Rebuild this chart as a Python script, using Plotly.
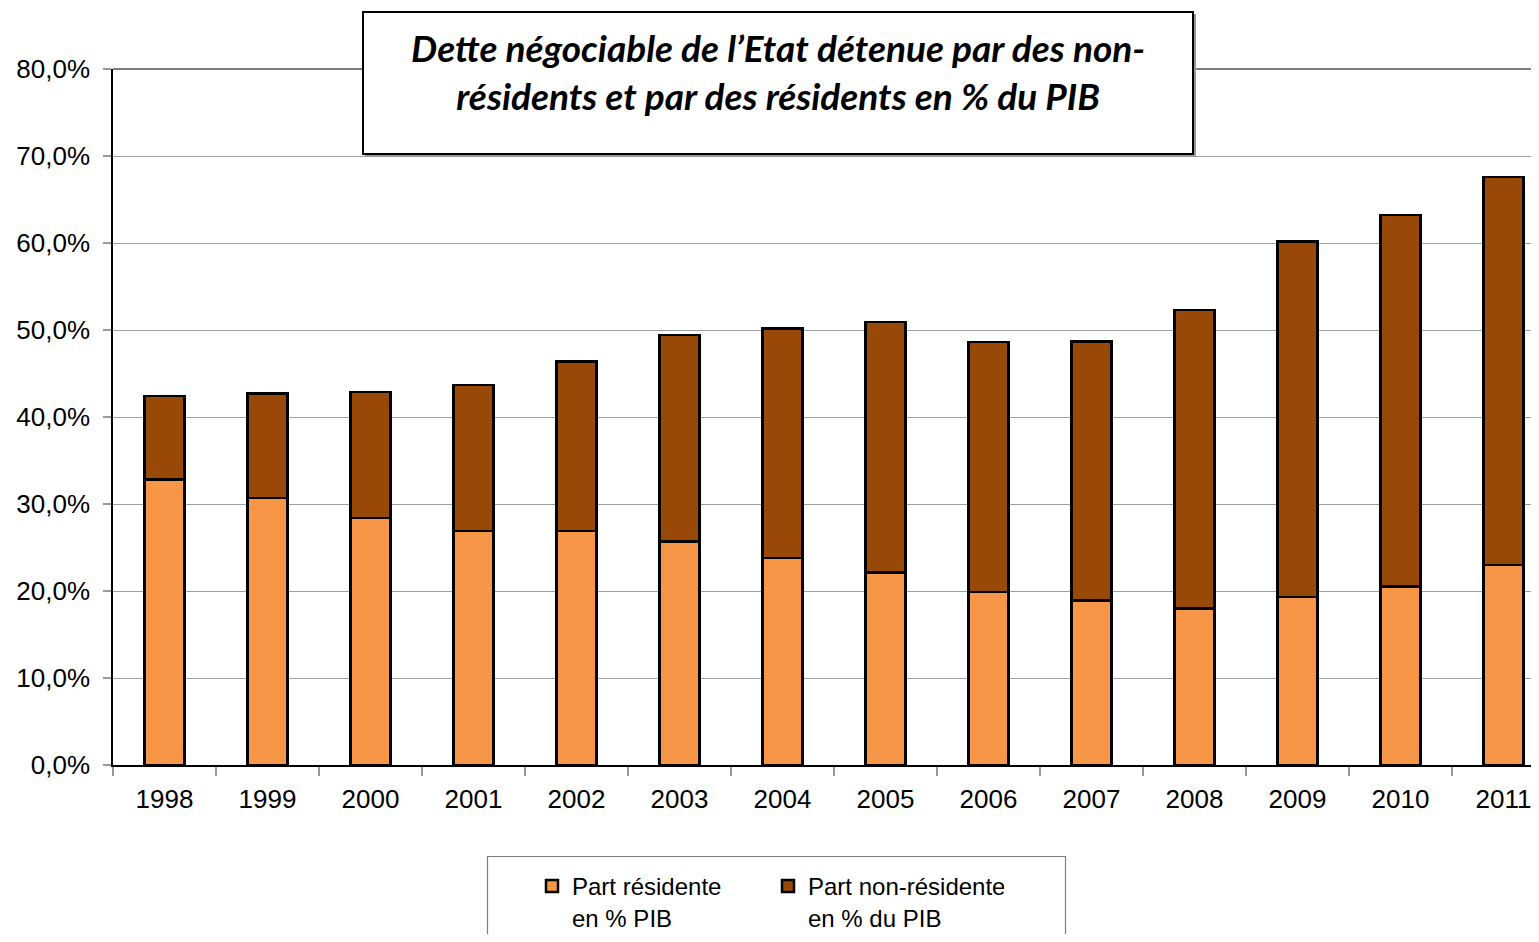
import plotly.graph_objects as go

years = ["1998", "1999", "2000", "2001", "2002", "2003", "2004",
         "2005", "2006", "2007", "2008", "2009", "2010", "2011"]
resident = [32.8, 30.7, 28.4, 26.9, 26.9, 25.7, 23.8, 22.1, 19.9, 18.9, 18.0, 19.3, 20.5, 23.0]
non_resident = [9.6, 12.0, 14.5, 16.8, 19.5, 23.7, 26.4, 28.8, 28.7, 29.8, 34.3, 40.9, 42.7, 44.6]
y_ticks = [0, 10, 20, 30, 40, 50, 60, 70, 80]
y_tick_labels = ["0,0%", "10,0%", "20,0%", "30,0%", "40,0%", "50,0%", "60,0%", "70,0%", "80,0%"]

title_text = "Dette négociable de l’Etat détenue par des non-<br>résidents et par des résidents en % du PIB"
name_res = "Part résidente<br>en % PIB"
name_nonres = "Part non-résidente<br>en % du PIB"

# page body has an 8px margin; work in screen coordinates and convert
OFF = 8
W, H = 1539 - 2 * OFF, 942 - 2 * OFF
L = 113 - OFF
T = 69 - OFF
B = H - (765 - OFF)
plot_w = W - L
plot_h = H - T - B

def px_x(px):
    return (px - OFF - L) / plot_w

def px_y(py):
    return (H - B - (py - OFF)) / plot_h

def cx(px):
    return (px - OFF) / W

def cy(py):
    return (H - (py - OFF)) / H

cat_px = 103.0
x_end = -0.5 + plot_w / cat_px

fig = go.Figure()
fig.add_trace(go.Bar(
    x=years, y=resident, name=name_res,
    marker=dict(color="#F79646", line=dict(color="black", width=2.5)),
    width=0.39,
))
fig.add_trace(go.Bar(
    x=years, y=non_resident, name=name_nonres,
    marker=dict(color="#984807", line=dict(color="black", width=2.5)),
    width=0.39,
))

font_main = "Liberation Sans, Arial, sans-serif"

fig.update_layout(
    width=W, height=H,
    margin=dict(l=L, r=0, t=T, b=B, pad=0, autoexpand=False),
    barmode="stack",
    paper_bgcolor="white", plot_bgcolor="white",
    font=dict(family=font_main, size=24, color="black"),
    showlegend=True,
    legend=dict(
        orientation="h",
        xref="container", yref="container",
        x=cx(532), y=cy(864), xanchor="left", yanchor="top",
        bgcolor="rgba(0,0,0,0)", borderwidth=0,
        font=dict(family=font_main, size=24, color="black"),
        entrywidth=191, entrywidthmode="pixels",
        itemwidth=30, valign="top",
        traceorder="normal",
    ),
    xaxis=dict(
        type="category",
        range=[-0.5, x_end],
        showline=True, linecolor="black", linewidth=1.5,
        ticks="outside", tickson="boundaries", ticklen=9,
        tickcolor="#999999", tickwidth=1.5,
        showgrid=False,
        ticklabelstandoff=10,
        tickfont=dict(family=font_main, size=26, color="black"),
        fixedrange=True,
    ),
    yaxis=dict(
        range=[0, 80],
        tickmode="array", tickvals=y_ticks, ticktext=y_tick_labels,
        showline=True, linecolor="black", linewidth=1.5,
        ticks="outside", ticklen=8, tickcolor="#999999", tickwidth=1.5,
        showgrid=True, gridcolor="#A0A0A0", gridwidth=1.2,
        zeroline=False,
        ticklabelstandoff=8,
        tickfont=dict(family=font_main, size=26, color="black"),
        fixedrange=True,
    ),
    shapes=[
        # top border line of plot area at 80 %
        dict(type="line", xref="paper", yref="paper", x0=0, x1=1, y0=1, y1=1,
             line=dict(color="black", width=1.2), layer="above"),
        # title box shadow
        dict(type="rect", xref="paper", yref="paper",
             x0=px_x(366), x1=px_x(1195), y0=px_y(156), y1=px_y(15),
             line=dict(color="#9A9A9A", width=2), fillcolor="#9A9A9A", layer="above"),
        # title box
        dict(type="rect", xref="paper", yref="paper",
             x0=px_x(363), x1=px_x(1193), y0=px_y(154), y1=px_y(12),
             line=dict(color="black", width=2), fillcolor="white", layer="above"),
        # legend box
        dict(type="rect", xref="paper", yref="paper",
             x0=px_x(487.5), x1=px_x(1065.5), y0=px_y(960), y1=px_y(856.5),
             line=dict(color="#7F7F7F", width=1.2), fillcolor="rgba(0,0,0,0)", layer="below"),
    ],
    annotations=[
        dict(text="<b><i>" + title_text + "</i></b>",
             xref="paper", yref="paper", x=px_x(778), y=px_y(71),
             xanchor="center", yanchor="middle", showarrow=False,
             font=dict(family="Lato, Open Sans, sans-serif", size=37, color="black"),
             align="center"),
    ],
)

fig.write_html("out.html")
